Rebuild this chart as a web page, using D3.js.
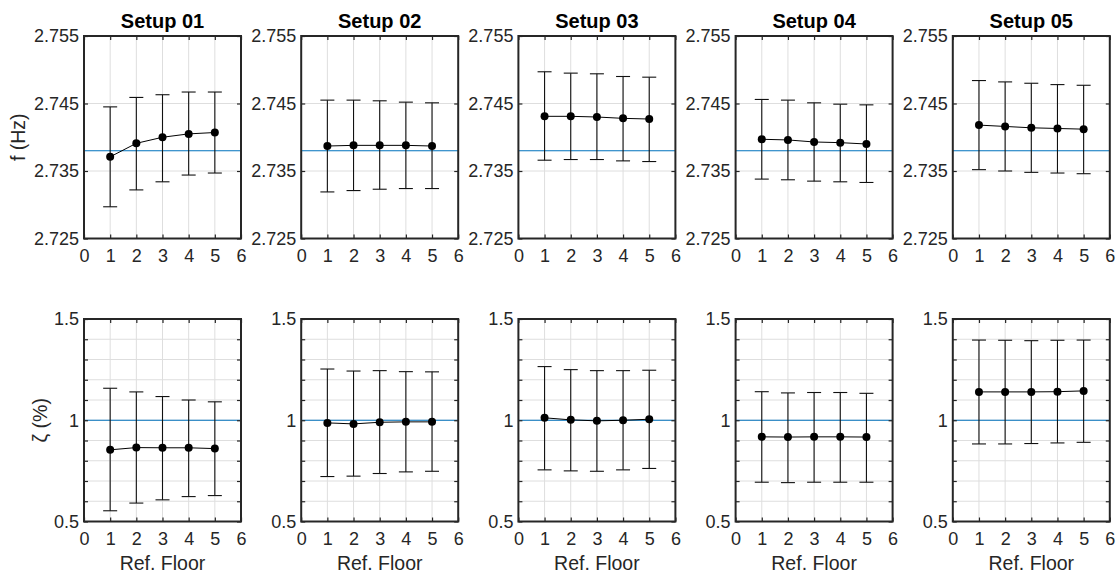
<!DOCTYPE html>
<html>
<head>
<meta charset="utf-8">
<script src="https://cdn.jsdelivr.net/npm/d3@7"></script>
<style>
  body { margin: 0; background: #fff; }
  text { font-family: "Liberation Sans", Arial, sans-serif; fill: #262626; }
</style>
</head>
<body>
<script>
"use strict";

// ---- data ----
var setups = ["Setup 01", "Setup 02", "Setup 03", "Setup 04", "Setup 05"];
var floors = [1, 2, 3, 4, 5];
var xTicks = [0, 1, 2, 3, 4, 5, 6];

var freqRef = 2.738;
var freqTicks = [2.725, 2.735, 2.745, 2.755];
var freqMean = [
	[2.7371, 2.7391, 2.7400, 2.7405, 2.7407],
	[2.7387, 2.7388, 2.7388, 2.7388, 2.7387],
	[2.7431, 2.7431, 2.7430, 2.7428, 2.7427],
	[2.7397, 2.7396, 2.7393, 2.7392, 2.7390],
	[2.7418, 2.7416, 2.7414, 2.7413, 2.7412]
];
var freqUpper = [
	[2.7445, 2.7459, 2.7463, 2.7467, 2.7467],
	[2.7455, 2.7455, 2.7454, 2.7452, 2.7451],
	[2.7497, 2.7495, 2.7494, 2.7490, 2.7489],
	[2.7456, 2.7455, 2.7451, 2.7449, 2.7448],
	[2.7484, 2.7482, 2.7480, 2.7478, 2.7477]
];
var freqLower = [
	[2.7297, 2.7322, 2.7334, 2.7344, 2.7347],
	[2.7319, 2.7321, 2.7323, 2.7324, 2.7324],
	[2.7366, 2.7367, 2.7367, 2.7365, 2.7364],
	[2.7338, 2.7337, 2.7335, 2.7334, 2.7333],
	[2.7352, 2.7350, 2.7348, 2.7347, 2.7346]
];

var dampRef = 1.0;
var dampTicks = [0.5, 1, 1.5];
var dampGrid = [0.6, 0.7, 0.8, 0.9, 1.0, 1.1, 1.2, 1.3, 1.4];
var dampMean = [
	[0.854, 0.865, 0.864, 0.864, 0.860],
	[0.987, 0.982, 0.990, 0.992, 0.992],
	[1.012, 1.002, 0.997, 1.000, 1.005],
	[0.918, 0.917, 0.918, 0.918, 0.917],
	[1.140, 1.140, 1.140, 1.141, 1.145]
];
var dampUpper = [
	[1.158, 1.140, 1.117, 1.100, 1.091],
	[1.253, 1.243, 1.245, 1.240, 1.239],
	[1.265, 1.250, 1.245, 1.245, 1.247],
	[1.141, 1.135, 1.137, 1.137, 1.133],
	[1.396, 1.395, 1.393, 1.395, 1.396]
];
var dampLower = [
	[0.553, 0.591, 0.607, 0.623, 0.628],
	[0.722, 0.724, 0.737, 0.745, 0.748],
	[0.755, 0.750, 0.748, 0.755, 0.762],
	[0.694, 0.692, 0.694, 0.694, 0.694],
	[0.883, 0.883, 0.885, 0.888, 0.891]
];

// ---- layout ----
var width = 1118;
var height = 576;
var panelLeft0 = 84;
var panelStep = 217.2;
var panelW = 157;
var tickFont = "18px";
var labelFont = "19.5px";
var rows = [
	{ top: 36, bottom: 238.5, domain: [2.725, 2.755], ticks: freqTicks, grid: [2.735, 2.745],
	  fmt: d3.format(".3f"), ref: freqRef, mean: freqMean, upper: freqUpper, lower: freqLower,
	  ylabel: "f (Hz)", ylabelX: 18 },
	{ top: 319, bottom: 521.5, domain: [0.5, 1.5], ticks: dampGrid.concat([0.5, 1.5]), grid: dampGrid,
	  fmt: function(d) { return (dampTicks.indexOf(d) >= 0) ? String(d) : ""; },
	  ref: dampRef, mean: dampMean, upper: dampUpper, lower: dampLower,
	  ylabel: "\u03B6 (%)", ylabelX: 40 }
];

var axisColor = "#262626";
var gridColor = "#dedede";
var refColor = "#0072BD";

var svg = d3.select("body").append("svg")
	.attr("width", width)
	.attr("height", height);

rows.forEach(function(row, r) {
	setups.forEach(function(name, i) {
		var left = panelLeft0 + i * panelStep;
		var x = d3.scaleLinear().domain([0, 6]).range([left, left + panelW]);
		var y = d3.scaleLinear().domain(row.domain).range([row.bottom, row.top]);
		var g = svg.append("g").attr("class", "panel");

		// grid
		g.selectAll(".vgrid").data(floors).enter().append("line")
			.attr("x1", function(d) { return x(d); }).attr("x2", function(d) { return x(d); })
			.attr("y1", row.top).attr("y2", row.bottom)
			.attr("stroke", gridColor).attr("stroke-width", 1);
		g.selectAll(".hgrid").data(row.grid).enter().append("line")
			.attr("x1", left).attr("x2", left + panelW)
			.attr("y1", function(d) { return y(d); }).attr("y2", function(d) { return y(d); })
			.attr("stroke", gridColor).attr("stroke-width", 1);

		// reference line
		g.append("line")
			.attr("x1", left).attr("x2", left + panelW)
			.attr("y1", y(row.ref)).attr("y2", y(row.ref))
			.attr("stroke", refColor).attr("stroke-width", 1.2);

		// axes (ticks inward, mirrored)
		var xAxis = g.append("g")
			.attr("transform", "translate(0," + row.bottom + ")")
			.call(d3.axisBottom(x).tickValues(xTicks).tickSize(-4).tickPadding(11).tickFormat(d3.format("d")));
		var xAxisTop = g.append("g")
			.attr("transform", "translate(0," + row.top + ")")
			.call(d3.axisTop(x).tickValues(xTicks).tickSize(-4).tickFormat(""));
		var yAxis = g.append("g")
			.attr("transform", "translate(" + left + ",0)")
			.call(d3.axisLeft(y).tickValues(row.ticks).tickSize(-4).tickPadding(5).tickFormat(row.fmt));
		var yAxisRight = g.append("g")
			.attr("transform", "translate(" + (left + panelW) + ",0)")
			.call(d3.axisRight(y).tickValues(row.ticks).tickSize(-4).tickFormat(""));
		[xAxis, xAxisTop, yAxis, yAxisRight].forEach(function(a) {
			a.select(".domain").remove();
			a.attr("font-size", null).attr("font-family", null);
			a.selectAll(".tick line").attr("stroke", axisColor).attr("stroke-width", 1.2);
			a.selectAll("text").style("font-size", tickFont).attr("fill", axisColor);
		});

		// error bars
		var bars = g.selectAll(".err").data(floors).enter().append("g").attr("class", "err");
		bars.append("line")
			.attr("x1", function(d) { return x(d); }).attr("x2", function(d) { return x(d); })
			.attr("y1", function(d, k) { return y(row.upper[i][k]); })
			.attr("y2", function(d, k) { return y(row.lower[i][k]); })
			.attr("stroke", "#111").attr("stroke-width", 1.1);
		[row.upper[i], row.lower[i]].forEach(function(vals) {
			bars.append("line")
				.attr("x1", function(d) { return x(d) - 7; }).attr("x2", function(d) { return x(d) + 7; })
				.attr("y1", function(d, k) { return y(vals[k]); })
				.attr("y2", function(d, k) { return y(vals[k]); })
				.attr("stroke", "#111").attr("stroke-width", 1.1);
		});

		var line = d3.line()
			.x(function(d) { return x(d); })
			.y(function(d, k) { return y(row.mean[i][k]); });
		g.append("path").datum(floors)
			.attr("d", line)
			.attr("fill", "none").attr("stroke", "#000").attr("stroke-width", 1);
		g.selectAll(".pt").data(floors).enter().append("circle")
			.attr("cx", function(d) { return x(d); })
			.attr("cy", function(d, k) { return y(row.mean[i][k]); })
			.attr("r", 4).attr("fill", "#000");

		// frame
		g.append("rect")
			.attr("x", left).attr("y", row.top)
			.attr("width", panelW).attr("height", row.bottom - row.top)
			.attr("fill", "none").attr("stroke", axisColor).attr("stroke-width", 2);

		if (r === 0) {
			g.append("text")
				.attr("x", left + panelW / 2).attr("y", 28)
				.style("text-anchor", "middle")
				.style("font-size", "20px").style("font-weight", "bold")
				.style("fill", "#000")
				.text(name);
		} else {
			g.append("text")
				.attr("x", left + panelW / 2).attr("y", 570)
				.style("text-anchor", "middle")
				.style("font-size", labelFont)
				.text("Ref. Floor");
		}
		if (i === 0) {
			g.append("text")
				.attr("transform", "translate(" + row.ylabelX + "," + ((row.top + row.bottom) / 2) + ") rotate(-90)")
				.attr("dy", "0.35em")
				.style("text-anchor", "middle")
				.style("font-size", labelFont)
				.text(row.ylabel);
		}
	});
});
</script>
</body>
</html>
